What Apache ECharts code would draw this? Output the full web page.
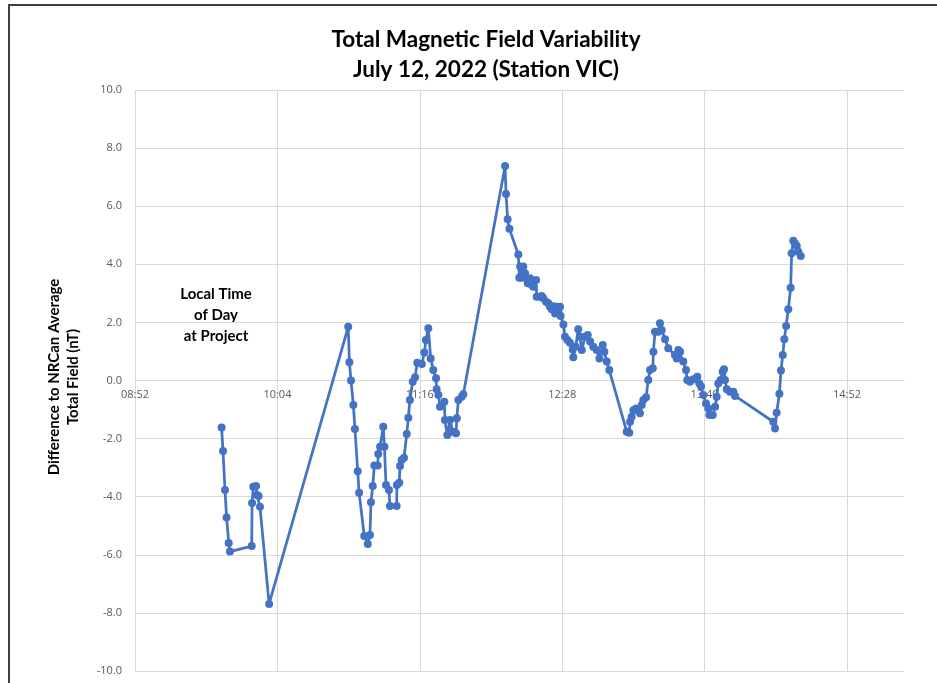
<!DOCTYPE html>
<html><head><meta charset="utf-8">
<script src="https://cdn.jsdelivr.net/npm/echarts@6/dist/echarts.min.js"></script>
<style>html,body{margin:0;padding:0;background:#fff}#c{width:937px;height:683px}</style>
</head><body><div id="c"></div>
<script>
// Local time of each reading, in minutes since midnight
const minutesOfDay = [
576.6,577.3,578.3,579.1,580.2,580.8,591.8,592.0,592.6,594.0,594.5,595.3,596.0,600.6,
640.6,641.2,642.0,643.2,644.0,645.4,646.1,648.7,650.5,651.6,652.1,653.0,653.8,655.5,655.8,656.7,
658.3,658.9,659.7,661.2,661.7,665.1,665.2,666.4,666.8,667.6,668.8,670.2,671.0,671.8,673.2,674.4,
675.5,677.8,679.1,679.9,681.1,682.3,683.6,685.0,685.3,686.2,687.0,689.2,689.5,690.7,692.1,693.4,
695.1,695.5,696.3,698.0,698.8,
719.9,720.4,721.2,722.1,726.6,727.1,727.5,728.3,729.1,730.0,730.9,731.4,732.5,733.4,734.2,735.6,
735.9,737.6,738.4,739.2,740.6,741.8,742.6,743.5,744.3,745.2,745.7,746.8,747.7,748.0,749.4,750.2,
751.4,752.7,754.1,754.4,755.6,756.9,757.8,758.7,760.3,761.7,762.9,764.5,766.2,767.6,769.3,770.1,
771.3,772.6,
781.4,782.7,783.1,783.9,784.8,786.1,787.3,788.1,789.0,789.8,791.2,792.3,793.2,794.6,794.9,795.7,
797.4,798.2,799.1,800.8,802.4,805.8,806.7,807.5,808.4,810.0,811.4,812.0,813.4,815.1,816.5,817.1,
818.1,819.0,820.1,821.5,822.7,823.2,824.9,826.1,826.9,827.7,828.9,829.9,830.6,831.1,832.0,833.6,
835.3,836.2,
855.5,856.4,857.2,858.6,859.4,860.3,861.1,862.0,863.1,864.3,864.8,865.6,866.5,867.4,868.2,869.4
];
// Difference to NRCan average total field (nT)
const fieldDiff = [
-1.62,-2.43,-3.77,-4.72,-5.59,-5.89,-5.70,-4.22,-3.66,-3.63,-3.94,-3.98,-4.35,-7.69,
1.85,0.63,0.00,-0.84,-1.67,-3.12,-3.86,-5.35,-5.63,-5.32,-4.19,-3.63,-2.93,-2.93,-2.53,-2.28,
-1.59,-2.28,-3.60,-3.77,-4.32,-4.32,-3.60,-3.52,-2.94,-2.74,-2.66,-1.84,-1.28,-0.67,-0.04,0.11,
0.61,0.57,0.96,1.39,1.80,0.76,0.36,0.08,-0.30,-0.50,-0.90,-0.73,-1.36,-1.88,-1.36,-1.76,
-1.82,-1.30,-0.67,-0.56,-0.47,
7.38,6.42,5.55,5.22,4.34,3.54,3.92,3.54,3.92,3.69,3.52,3.35,3.52,3.29,3.23,3.46,
2.88,2.88,2.91,2.83,2.71,2.66,2.54,2.45,2.56,2.31,2.54,2.37,2.54,2.22,1.93,1.51,
1.39,1.30,1.07,0.80,1.16,1.76,1.51,1.05,1.51,1.57,1.34,1.16,1.05,0.76,1.22,0.99,
0.65,0.36,
-1.76,-1.80,-1.42,-1.25,-1.02,-0.96,-1.02,-1.13,-0.84,-0.67,-0.58,0.02,0.36,0.42,0.99,1.68,
1.68,1.97,1.74,1.42,1.11,0.88,0.76,1.05,0.99,0.65,0.36,0.02,-0.04,0.04,0.08,0.13,
-0.10,-0.21,-0.50,-0.79,-0.96,-1.19,-1.19,-0.90,-0.56,-0.10,0.02,0.30,0.39,0.02,-0.30,-0.39,
-0.39,-0.53,
-1.42,-1.65,-1.11,-0.46,0.34,0.88,1.42,1.88,2.45,3.19,4.38,4.81,4.72,4.63,4.43,4.29
];
const xTickLabels = ['08:52','10:04','11:16','12:28','13:40','14:52'];
const AXIS_START = 532.8;   // 08:52:48, axis origin
const TICK_STEP = 72;       // minutes between ticks
const AXIS_SPAN = 388.8;    // axis length in minutes
const Y_MIN = -10, Y_MAX = 10, Y_STEP = 2;

const GRID_TOP = 90, GRID_BOTTOM = 12, H = 683;
const plotH = H - GRID_TOP - GRID_BOTTOM;
// move the time axis up so it crosses the value axis at 0
const zeroOffset = -plotH * (0 - Y_MIN) / (Y_MAX - Y_MIN);

const chart = echarts.init(document.getElementById('c'));
const data = minutesOfDay.map((m, i) => [m - AXIS_START, fieldDiff[i]]);
const grid = '#d9d9d9';
chart.setOption({
  animation: false,
  title: {
    text: 'Total Magnetic Field Variability\nJuly 12, 2022 (Station VIC)',
    left: 481, top: 20, textAlign: 'center',
    textStyle: { fontFamily: 'Lato', fontWeight: 'bold', fontSize: 22.5, lineHeight: 30, color: '#000' }
  },
  grid: { left: 135, right: 33, top: GRID_TOP, bottom: GRID_BOTTOM },
  xAxis: {
    type: 'value', min: 0, max: AXIS_SPAN, interval: TICK_STEP,
    position: 'bottom', offset: zeroOffset,
    axisLine: { onZero: false, lineStyle: { color: grid } },
    axisTick: { show: false },
    splitLine: { show: true, showMaxLine: false, lineStyle: { color: grid, width: 1 } },
    axisLabel: {
      color: '#595959', fontSize: 11, fontFamily: 'Open Sans', margin: 9, showMaxLabel: false,
      formatter: v => { const k = Math.round(v / TICK_STEP); return Math.abs(v - k * TICK_STEP) < 1e-6 && k < xTickLabels.length ? xTickLabels[k] : ''; }
    }
  },
  yAxis: {
    type: 'value', min: Y_MIN, max: Y_MAX, interval: Y_STEP,
    axisLine: { show: false }, axisTick: { show: false },
    splitLine: { lineStyle: { color: grid, width: 1 } },
    axisLabel: { color: '#595959', fontSize: 11, fontFamily: 'Open Sans', margin: 13, formatter: v => v.toFixed(1) }
  },
  series: [{
    type: 'line', data: data, symbol: 'circle', symbolSize: 8, z: 5,
    lineStyle: { color: '#4472C4', width: 2.75 },
    itemStyle: { color: '#4472C4' }
  }],
  graphic: [
    { type: 'rect', silent: true, shape: { x: 9, y: 5, width: 1000, height: 1000 },
      style: { fill: 'none', stroke: '#404040', lineWidth: 2 } },
    { type: 'text', x: 64, y: 377, rotation: Math.PI / 2,
      style: { text: 'Difference to NRCan Average\nTotal Field (nT)', font: 'bold 15px Lato', fill: '#000',
               align: 'center', verticalAlign: 'middle', lineHeight: 19 } },
    { type: 'text', x: 216, y: 315,
      style: { text: 'Local Time\nof Day\nat Project', font: 'bold 15px Lato', fill: '#000',
               align: 'center', verticalAlign: 'middle', lineHeight: 21 } }
  ]
});
</script>
</body></html>
